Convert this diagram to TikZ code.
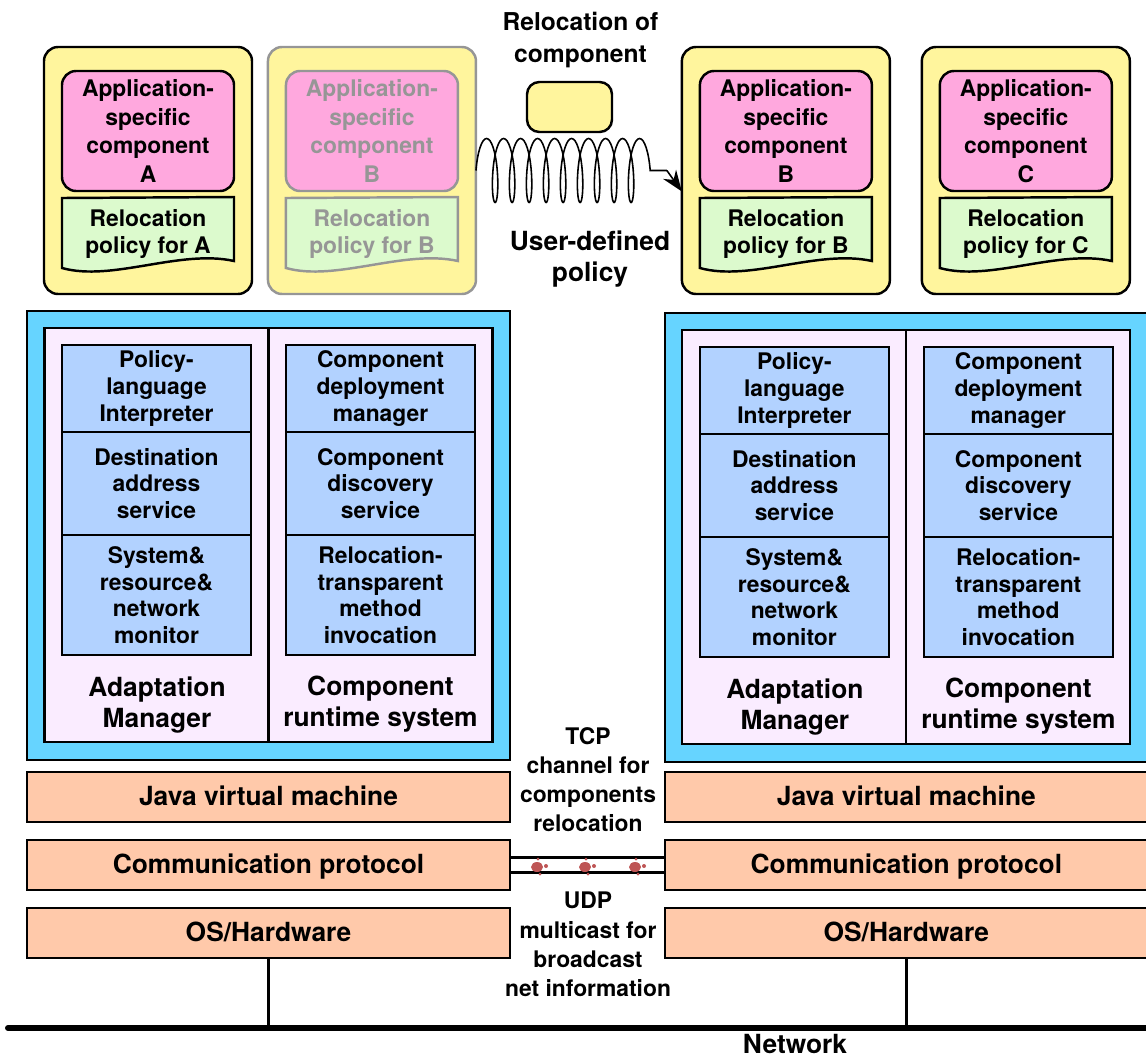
\documentclass[tikz,border=0pt]{standalone}
\usepackage{fontspec}
\setmainfont{TeX Gyre Heros}
\usetikzlibrary{decorations.pathmorphing,arrows.meta,calc}
\definecolor{appyellow}{RGB}{255,245,157}
\definecolor{comppink}{RGB}{255,168,222}
\definecolor{polgreen}{RGB}{220,250,205}
\definecolor{hostcyan}{RGB}{102,212,255}
\definecolor{mgrlav}{RGB}{250,236,255}
\definecolor{cellblue}{RGB}{178,210,255}
\definecolor{barsalmon}{RGB}{255,201,170}
\definecolor{dotred}{RGB}{190,85,85}
\definecolor{fadegray}{RGB}{150,150,150}
\newcommand{\pxl}{0.02cm}
\tikzset{
  every node/.style={inner sep=0pt,outer sep=0pt},
  txtm/.style={font=\fontsize{13}{15.2}\selectfont\bfseries,align=center},
  txtb/.style={font=\fontsize{15}{17.5}\selectfont\bfseries,align=center},
  appbox/.style={draw,line width=1.4pt,rounded corners=8pt,fill=appyellow,
    minimum width=208*\pxl,minimum height=247*\pxl},
  compbox/.style={draw,line width=1.4pt,rounded corners=8pt,fill=comppink,
    font=\fontsize{13}{16.3}\selectfont\bfseries,align=center,
    minimum width=172*\pxl,minimum height=120*\pxl},
  polshape/.style={draw,line width=1.4pt,fill=polgreen},
  poltext/.style={txtm,font=\fontsize{13}{15.4}\selectfont\bfseries},
  hostbox/.style={draw,line width=1.2pt,fill=hostcyan,minimum width=483*\pxl,minimum height=449*\pxl},
  halfbox/.style={draw,line width=1.2pt,fill=mgrlav,minimum width=224*\pxl,minimum height=414*\pxl},
  cellbox/.style={txtm,draw,line width=1.2pt,fill=cellblue,minimum width=189*\pxl},
  barbox/.style={txtb,draw,line width=1.2pt,fill=barsalmon,minimum width=483*\pxl,minimum height=50*\pxl,
    text height=10.5pt,text depth=1pt},
  spring/.style={decorate,decoration={coil,amplitude=0.64cm,segment length=0.34cm,aspect=0.2}},
  faded/.style={draw=fadegray,text=fadegray},
  fadedtxt/.style={text=fadegray}
}
\begin{document}
\begin{tikzpicture}[x=0.02cm,y=-0.02cm]
\useasboundingbox (0,0) rectangle (1146,1059);

% Componente A
\node[appbox] (appA) at (148,170.5) {};
\node[compbox] (compA) at (148,131) {Application-\\specific\\component\\A};
\draw[polshape] (62,198) -- (234,197) -- (234,261) .. controls (180,249) and (112,282) .. (62,268) -- cycle;
\node[poltext] (polA) at (148,234) {Relocation\\policy for A};

% Componente B (antes de la reubicacion)
\begin{scope}[xshift=4.48cm]
  \node[appbox,faded] (appBold) at (148,170.5) {};
  \node[compbox,faded] (compBold) at (148,131) {Application-\\specific\\component\\B};
  \draw[polshape,faded] (62,198) -- (234,197) -- (234,261) .. controls (180,249) and (112,282) .. (62,268) -- cycle;
  \node[poltext,fadedtxt] (polBold) at (148,234) {Relocation\\policy for B};
\end{scope}

% Componente B
\begin{scope}[xshift=12.76cm]
  \node[appbox] (appB) at (148,170.5) {};
  \node[compbox] (compB) at (148,131) {Application-\\specific\\component\\B};
  \draw[polshape] (62,198) -- (234,197) -- (234,261) .. controls (180,249) and (112,282) .. (62,268) -- cycle;
  \node[poltext] (polB) at (148,234) {Relocation\\policy for B};
\end{scope}

% Componente C
\begin{scope}[xshift=17.56cm]
  \node[appbox] (appC) at (148,170.5) {};
  \node[compbox] (compC) at (148,131) {Application-\\specific\\component\\C};
  \draw[polshape] (62,198) -- (234,197) -- (234,261) .. controls (180,249) and (112,282) .. (62,268) -- cycle;
  \node[poltext] (polC) at (148,234) {Relocation\\policy for C};
\end{scope}

% Reubicacion
\node[font=\fontsize{14}{18}\selectfont\bfseries,align=center] (reltitle) at (580.5,40) {Relocation of\\component};
\node[draw,line width=1.4pt,rounded corners=7pt,fill=appyellow,minimum width=85*\pxl,minimum height=50*\pxl] (moving) at (569.5,107) {};
\coordinate (sprEnd) at ([xshift=-0.3cm]appB.west);
\draw[spring,line width=0.9pt] (appBold.east) -- (appBold.east -| sprEnd);
\draw[line width=0.9pt,-{Stealth[length=12pt,width=9pt]}] (appBold.east -| sprEnd) -- ([yshift=-0.42cm]appB.west);
\node[txtb,font=\fontsize{15}{18}\selectfont\bfseries] (udpol) at (590,259) {User-defined\\policy};

% Nodo izquierdo
\begin{scope}
  \node[hostbox] (Lhost) at (268.5,535.5) {};
  \node[halfbox] (Lmgr) at (156.5,535) {};
  \node[halfbox] (Lrts) at (380.5,535) {};
  \node[cellbox,minimum height=87*\pxl] (Lpli) at (156.5,388.5) {Policy-\\language\\Interpreter};
  \node[cellbox,minimum height=103*\pxl] (Ldas) at (156.5,483.5) {Destination\\address\\service};
  \node[cellbox,minimum height=120*\pxl] (Lmon) at (156.5,595) {System\&\\resource\&\\network\\monitor};
  \node[cellbox,minimum height=87*\pxl] (Lcdm) at (380.5,388.5) {Component\\deployment\\manager};
  \node[cellbox,minimum height=103*\pxl] (Lcds) at (380.5,483.5) {Component\\discovery\\service};
  \node[cellbox,minimum height=120*\pxl] (Lrmi) at (380.5,595) {Relocation-\\transparent\\method\\invocation};
  \node[txtb] (Lmgrlbl) at (157,705) {Adaptation\\Manager};
  \node[txtb] (Lrtslbl) at (380.5,704) {Component\\runtime system};
  \node[barbox] (Ljvm) at (268.5,797) {Java virtual machine};
  \node[barbox] (Lcomm) at (268.5,865) {Communication protocol};
  \node[barbox] (Los) at (268.5,933) {OS/Hardware};
\end{scope}

% Nodo derecho
\begin{scope}[xshift=12.76cm]
  \node[hostbox] (Rhost) at (268.5,537.5) {};
  \node[halfbox] (Rmgr) at (156.5,537) {};
  \node[halfbox] (Rrts) at (380.5,537) {};
  \node[cellbox,minimum height=87*\pxl] (Rpli) at (156.5,390.5) {Policy-\\language\\Interpreter};
  \node[cellbox,minimum height=103*\pxl] (Rdas) at (156.5,485.5) {Destination\\address\\service};
  \node[cellbox,minimum height=120*\pxl] (Rmon) at (156.5,597) {System\&\\resource\&\\network\\monitor};
  \node[cellbox,minimum height=87*\pxl] (Rcdm) at (380.5,390.5) {Component\\deployment\\manager};
  \node[cellbox,minimum height=103*\pxl] (Rcds) at (380.5,485.5) {Component\\discovery\\service};
  \node[cellbox,minimum height=120*\pxl] (Rrmi) at (380.5,597) {Relocation-\\transparent\\method\\invocation};
  \node[txtb] (Rmgrlbl) at (157,707) {Adaptation\\Manager};
  \node[txtb] (Rrtslbl) at (380.5,706) {Component\\runtime system};
  \node[barbox] (Rjvm) at (268.5,797) {Java virtual machine};
  \node[barbox] (Rcomm) at (268.5,865) {Communication protocol};
  \node[barbox] (Ros) at (268.5,933) {OS/Hardware};
\end{scope}

% Canales
\node[txtm,font=\fontsize{13}{16.6}\selectfont\bfseries] (tcplbl) at (588,779.5) {TCP\\channel for\\components\\relocation};
\node[txtm,font=\fontsize{13}{16.6}\selectfont\bfseries] (udplbl) at (588,944.5) {UDP\\multicast for\\broadcast\\net information};
\draw[line width=1.3pt] ([yshift=0.15cm]Lcomm.east) -- ([yshift=0.15cm]Rcomm.west);
\draw[line width=1.3pt] ([yshift=-0.15cm]Lcomm.east) -- ([yshift=-0.15cm]Rcomm.west);
\fill[dotred] (537,867) ellipse [x radius=6,y radius=5] (546,866) circle [radius=2] (540,874) circle [radius=1.5] (538,859) circle [radius=1.5];
\fill[dotred] (585,867) ellipse [x radius=6,y radius=5] (594,866) circle [radius=2] (588,874) circle [radius=1.5] (586,859) circle [radius=1.5];
\fill[dotred] (635,867) ellipse [x radius=6,y radius=5] (644,866) circle [radius=2] (638,874) circle [radius=1.5] (636,859) circle [radius=1.5];

% Red
\coordinate (netL) at (8,1028);
\coordinate (netR) at (1150,1028);
\draw[line width=3.4pt,line cap=round] (netL) -- (netR);
\draw[line width=1.7pt] (Los.south) -- (Los.south |- netL);
\draw[line width=1.7pt] (Ros.south) -- (Ros.south |- netL);
\node[txtb] (netlbl) at (795,1044) {Network};
\end{tikzpicture}
\end{document}
